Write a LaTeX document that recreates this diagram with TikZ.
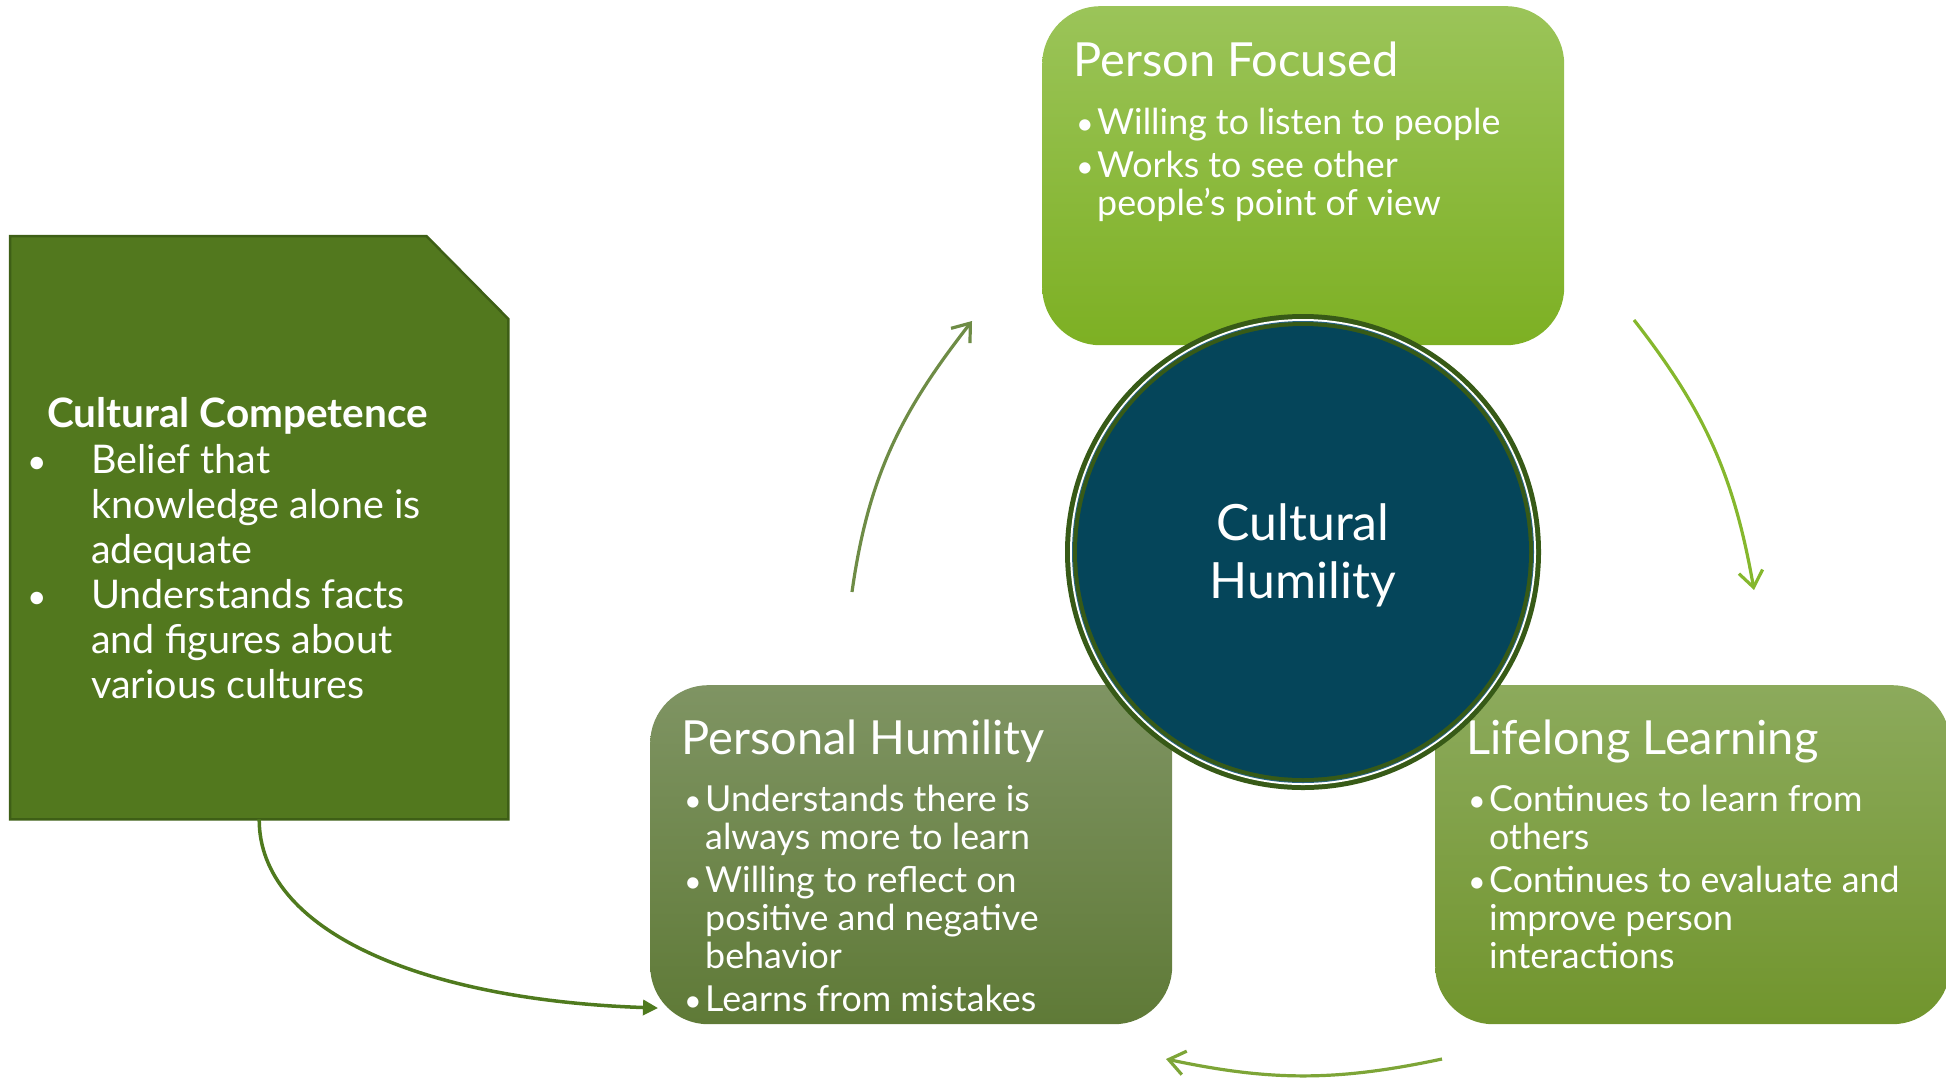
\documentclass[tikz,border=0pt]{standalone}
\usepackage{fontspec}
\setmainfont{Lato}
\usetikzlibrary{arrows.meta}

% palette
\definecolor{pfTop}{RGB}{155,196,89}
\definecolor{pfBot}{RGB}{125,176,35}
\definecolor{phTop}{RGB}{127,148,99}
\definecolor{phBot}{RGB}{95,122,55}
\definecolor{llTop}{RGB}{140,170,92}
\definecolor{llBot}{RGB}{113,149,45}
\definecolor{ccFill}{RGB}{82,120,30}
\definecolor{ccEdge}{RGB}{62,95,22}
\definecolor{hubFill}{RGB}{5,69,90}
\definecolor{hubRing}{RGB}{55,90,23}
\definecolor{hubBlue}{RGB}{40,100,130}
\definecolor{arrowA}{RGB}{110,140,70}
\definecolor{arrowB}{RGB}{133,183,45}
\definecolor{arrowC}{RGB}{125,165,55}
\definecolor{arrowD}{RGB}{79,122,30}

% small list dot
\newcommand{\listdot}{\scalebox{0.85}{\textbullet}}

\begin{document}
\begin{tikzpicture}[x=1pt,y=1pt,
  card/.style={rounded corners=58pt, inner sep=0pt, minimum width=522pt,
               minimum height=339pt, anchor=north west, draw=none},
  cardtitle/.style={text=white, font=\fontsize{47}{55}\selectfont,
                    anchor=base west, inner sep=0pt},
  cardlist/.style={text=white, font=\fontsize{35.8}{38}\selectfont,
                   anchor=base west, inner sep=0pt},
  cclist/.style={text=white, font=\fontsize{39.5}{45}\selectfont,
                 anchor=base west, inner sep=0pt},
  cyclearrow/.style={line width=3.2pt,
                     -{Straight Barb[length=16pt,width=24pt,line width=3.2pt]}},
  hubtext/.style={text=white, font=\fontsize{50}{58}\selectfont,
                  anchor=base, inner sep=0pt},
]
\useasboundingbox (0,0) rectangle (1946,-1085);

% ---------- Cultural Competence (chamfered box) ----------
\node[minimum width=498pt, minimum height=583pt, inner sep=0pt,
      anchor=north west] (cc) at (10,-236) {};
\draw[fill=ccFill, draw=ccEdge, line width=2.5pt]
  (cc.north west) -- ([xshift=-82pt]cc.north east)
  -- ([yshift=-83pt]cc.north east) -- (cc.south east)
  -- (cc.south west) -- cycle;
\node[text=white, font=\bfseries\fontsize{40.5}{45}\selectfont,
      anchor=base west, inner sep=0pt] (cc-title) at (47,-427)
  {Cultural Competence};
\node[cclist] (cc-list) at (27,-473)
  {\begin{tabular}[t]{@{}p{64pt}@{}l@{}}
   \listdot & Belief that\\
            & knowledge alone is\\
            & adequate\\
   \listdot & Understands facts\\
            & and figures about\\
            & various cultures
   \end{tabular}};

% ---------- the three surrounding cards ----------
\node[card, top color=pfTop, bottom color=pfBot] (pf) at (1042,-6) {};
\node[cardtitle] (pf-title) at (1073,-76) {Person Focused};
\node[cardlist] (pf-list) at (1076,-134)
  {\begin{tabular}[t]{@{}p{21pt}@{}l@{}}
   \listdot & Willing to listen to people\\[5pt]
   \listdot & Works to see other\\
            & people’s point of view
   \end{tabular}};

\node[card, top color=phTop, bottom color=phBot] (ph) at (650,-685) {};
\node[cardtitle] (ph-title) at (681,-754) {Personal Humility};
\node[cardlist] (ph-list) at (684,-811)
  {\begin{tabular}[t]{@{}p{21pt}@{}l@{}}
   \listdot & Understands there is\\
            & always more to learn\\[5pt]
   \listdot & Willing to reflect on\\
            & positive and negative\\
            & behavior\\[5pt]
   \listdot & Learns from mistakes
   \end{tabular}};

\node[card, minimum width=515pt, top color=llTop, bottom color=llBot] (ll) at (1435,-685) {};
\node[cardtitle] (ll-title) at (1466,-754) {Lifelong Learning};
\node[cardlist] (ll-list) at (1468,-811)
  {\begin{tabular}[t]{@{}p{21pt}@{}l@{}}
   \listdot & Continues to learn from\\
            & others\\[5pt]
   \listdot & Continues to evaluate and\\
            & improve person\\
            & interactions
   \end{tabular}};

% ---------- central hub ----------
\node[circle, fill=hubRing, minimum size=476pt, inner sep=0pt] (hub) at (1303,-552) {};
\fill[white]   (hub.center) circle (233pt);
\fill[hubBlue] (hub.center) circle (231pt);
\fill[hubRing] (hub.center) circle (230pt);
\fill[hubFill] (hub.center) circle (226pt);
\node[hubtext] (hub-a) at (1303,-540) {Cultural};
\node[hubtext] (hub-b) at (1303,-598) {Humility};

% ---------- cycle arrows ----------
\coordinate (c1s) at (852,-592);   \coordinate (c1e) at (972,-321);
\coordinate (c2s) at (1634,-320);  \coordinate (c2e) at (1754,-590);
\coordinate (c3s) at (1442,-1059); \coordinate (c3e) at (1166,-1059);
\draw[cyclearrow, arrowA] (c1s) to[out=82,in=232] (c1e);
\draw[cyclearrow, arrowB] (c2s) to[out=-52,in=100] (c2e);
\draw[cyclearrow, arrowC] (c3s) to[out=192,in=-12] (c3e);

% ---------- competence feeds personal humility ----------
\coordinate (ph-in) at (658,-1008);
\draw[line width=3.5pt, arrowD, -{Triangle[length=15pt,width=15pt]}]
  (cc.south) .. controls (259,-930) and (420,-1000) .. (ph-in);
\end{tikzpicture}
\end{document}
